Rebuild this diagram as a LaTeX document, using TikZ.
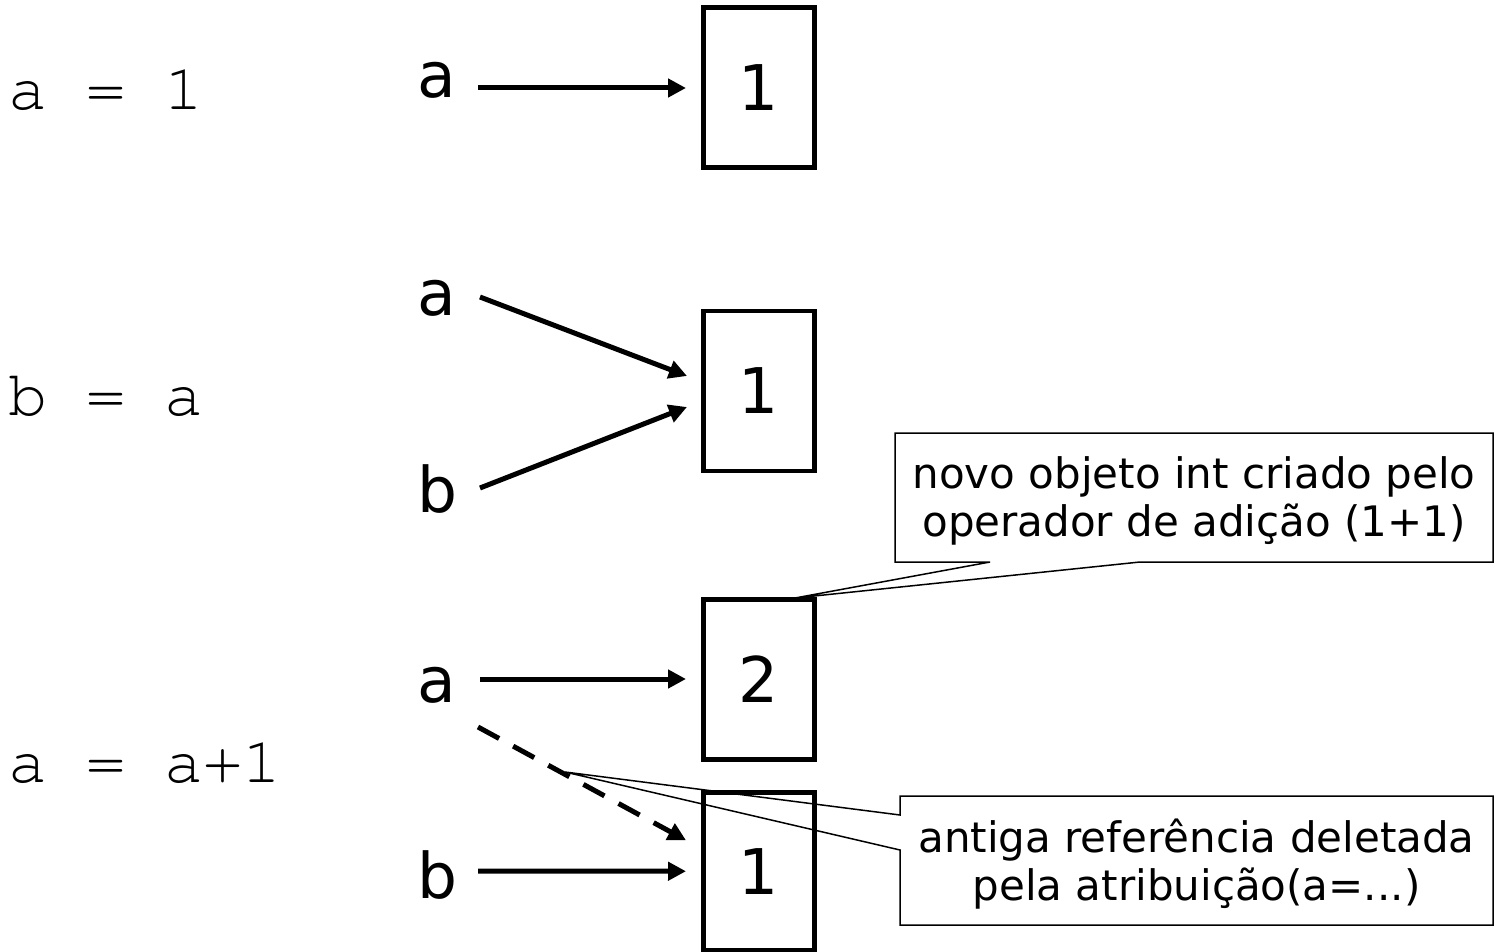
\documentclass[tikz,border=0pt]{standalone}
\usepackage{fontspec}
\setmainfont{DejaVu Sans}
\newfontfamily\codefont{TeX Gyre Cursor}
\usetikzlibrary{arrows.meta}
\begin{document}
\begin{tikzpicture}[x=1pt,y=-1pt,
  code/.style={font=\codefont\fontsize{65}{70}\selectfont, anchor=base west, inner sep=0},
  lbl/.style={font=\fontsize{63}{70}\selectfont, anchor=base, inner sep=0, text height=35pt, text depth=0pt},
  obj/.style={draw, line width=4.5pt, minimum width=111pt, minimum height=160pt, outer sep=0pt, inner sep=0pt, font=\fontsize{63}{70}\selectfont},
  ref/.style={line width=5pt, -{Triangle[length=18pt,width=18pt]}},
  note/.style={font=\fontsize{42}{48}\selectfont, align=center, inner sep=0pt},
  callout/.style={draw, fill=white, line width=1.5pt, line join=miter}
]
\useasboundingbox (0,0) rectangle (1501,952);

% callouts
\draw[callout] (895,433) -- (1493,433) -- (1493,562) -- (1140,562) -- (795,598) -- (990,562) -- (895,562) -- cycle;
\draw[callout] (900,796) -- (1493,796) -- (1493,925) -- (900,925) -- (900,850) -- (565,772) -- (900,815) -- cycle;
\node[note] (n1) at (1194,501) {novo objeto int criado pelo\\operador de adição (1+1)};
\node[note] (n2) at (1196.5,864.4) {antiga referência deletada\\pela atribuição(a=...)};

% code
\node[code] (c1) at (8,110) {a = 1};
\node[code] (c2) at (8,415) {b = a};
\node[code] (c3) at (8,782) {a = a+1};

% objects
\node[obj] (box1) at (759,87.5) {1};
\node[obj] (box2) at (759,391) {1};
\node[obj] (box3) at (759,679.5) {2};
\node[obj, minimum height=157.5pt] (box4) at (759,871.25) {1};

% names
\node[lbl] (la1) at (437,98) {a};
\node[lbl] (la2) at (437,315) {a};
\node[lbl] (lb2) at (437,512) {b};
\node[lbl] (la3) at (437,702) {a};
\node[lbl] (lb4) at (437,898) {b};

% references
\draw[ref] ([shift={(41,7.5)}]la1.center) -- ([shift={(-17.5,0.5)}]box1.west);
\draw[ref] ([shift={(43,-0.5)}]la2.center) -- ([shift={(-16.5,-15)}]box2.west);
\draw[ref] ([shift={(43,-6.5)}]lb2.center) -- ([shift={(-16.5,16)}]box2.west);
\draw[ref] ([shift={(43,-5.5)}]la3.center) -- ([shift={(-17.5,-0.5)}]box3.west);
\draw[ref, dash pattern=on 24pt off 16pt] ([shift={(41,42.5)}]la3.center) -- ([shift={(-17.5,-31)}]box4.west);
\draw[ref] ([shift={(41,-9.5)}]lb4.center) -- ([shift={(-17.5,0)}]box4.west);
\end{tikzpicture}
\end{document}
